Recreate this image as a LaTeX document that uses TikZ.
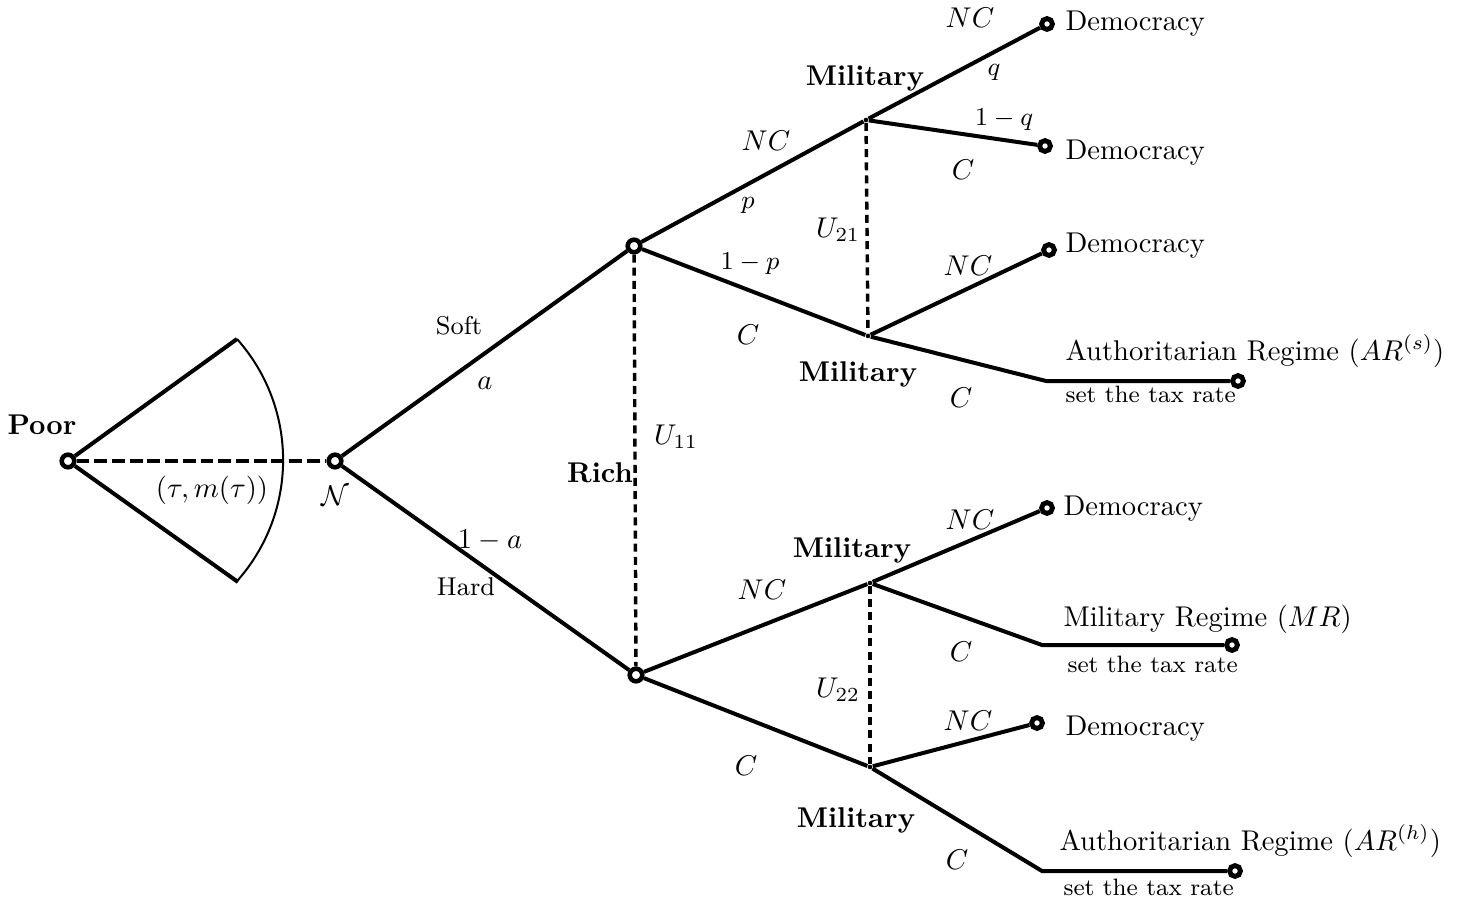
\documentclass[tikz,border=0pt]{standalone}
\usepackage{amsmath}
\begin{document}
\begin{tikzpicture}[x=0.35pt,y=-0.35pt,
  edge/.style={line width=1.4pt},
  poorline/.style={line width=1.1pt, dash pattern=on 4.5pt off 1.7pt},
  infoset/.style={line width=1.2pt, dash pattern=on 2.8pt off 1.8pt},
  ring/.style={circle, draw, line width=1.6pt, minimum size=4.4pt, inner sep=0pt},
  term/.style={circle, draw, line width=1.7pt, minimum size=3.8pt, inner sep=0pt},
  dot/.style={circle, fill, minimum size=1.6pt, inner sep=0pt},
  player/.style={font=\bfseries, inner sep=0pt},
  lab/.style={inner sep=0pt},
  slab/.style={inner sep=0pt, font=\small},
  outcome/.style={inner sep=0pt, anchor=base west},
  tax/.style={inner sep=0pt, anchor=base west, font=\fontsize{8.3}{10}\selectfont}
]
\useasboundingbox (0,0) rectangle (1466,905);

% nodes
\node[ring] (poor) at (68,461) {};
\node[ring] (nat) at (335,461) {};
\node[ring] (r1) at (634,246) {};
\node[ring] (r2) at (636,675) {};
\node[dot] (m1) at (866,120) {};
\node[dot] (m2) at (868,336) {};
\node[dot] (m3) at (870,583) {};
\node[dot] (m4) at (870,767) {};
\node[term] (t1) at (1047,24) {};
\node[term] (t2) at (1045,146) {};
\node[term] (t3) at (1049,250) {};
\node[term] (t4) at (1238,381) {};
\node[term] (t5) at (1047,508) {};
\node[term] (t6) at (1232,645) {};
\node[term] (t7) at (1037,723) {};
\node[term] (t8) at (1235,871) {};
\coordinate (k1) at (1046,381);
\coordinate (k2) at (1042,645);
\coordinate (k3) at (1042,871);
\coordinate (f1) at (237,339);
\coordinate (f2) at (238,582);

% fan of the poor
\draw[edge] (poor) -- (f1);
\draw[edge] (poor) -- (f2);
\draw[line width=0.7pt] (f1) arc[start angle=-41.7, end angle=41.7, radius=182];
\draw[poorline] (poor) -- (nat);

% tree
\draw[edge] (nat) -- (r1);
\draw[edge] (nat) -- (r2);
\draw[edge] (r1) -- (m1);
\draw[edge] (r1) -- (m2);
\draw[edge] (r2) -- (m3);
\draw[edge] (r2) -- (m4);
\draw[edge] (m1) -- (t1);
\draw[edge] (m1) -- (t2);
\draw[edge] (m2) -- (t3);
\draw[edge] (m2) -- (k1) -- (t4);
\draw[edge] (m3) -- (t5);
\draw[edge] (m3) -- (k2) -- (t6);
\draw[edge] (m4) -- (t7);
\draw[edge] (m4) -- (k3) -- (t8);

% information sets
\draw[infoset] (r1) -- (r2);
\draw[infoset] (m1) -- (m2);
\draw[infoset] (m3) -- (m4);

% labels
\node[player] (lpoor) at (42,425) {Poor};
\node[lab] (ltau) at (212,490) {$(\tau,m(\tau))$};
\node[lab] (lnat) at (335,496) {$\mathcal{N}$};
\node[slab] (lsoft) at (459,326) {Soft};
\node[lab] (la) at (485,383) {$a$};
\node[lab] (l1a) at (490,540) {$1-a$};
\node[slab] (lhard) at (466,587) {Hard};
\node[player] (lrich) at (600,473) {Rich};
\node[lab] (lu11) at (676,437) {$U_{11}$};
\node[lab] (lnc1) at (766,141) {$NC$};
\node[slab] (lp) at (748,205) {$p$};
\node[slab] (l1p) at (750,264) {$1-p$};
\node[lab] (lc1) at (748,335) {$C$};
\node[lab] (lnc2) at (762,590) {$NC$};
\node[lab] (lc2) at (746,766) {$C$};
\node[player] (lm1) at (865,78) {Military};
\node[player] (lm2) at (858,374) {Military};
\node[player] (lm3) at (852,550) {Military};
\node[player] (lm4) at (856,820) {Military};
\node[lab] (lu21) at (838,230) {$U_{21}$};
\node[lab] (lu22) at (838,690) {$U_{22}$};
\node[lab] (lnc3) at (970,18) {$NC$};
\node[slab] (lq) at (994,72) {$q$};
\node[slab] (l1q) at (1004,120) {$1-q$};
\node[lab] (lc3) at (963,170) {$C$};
\node[lab] (lnc4) at (968,266) {$NC$};
\node[lab] (lc4) at (961,398) {$C$};
\node[lab] (lnc5) at (970,520) {$NC$};
\node[lab] (lc5) at (961,652) {$C$};
\node[lab] (lnc6) at (968,721) {$NC$};
\node[lab] (lc6) at (957,860) {$C$};

% outcomes
\node[outcome] (o1) at (1065,31) {Democracy};
\node[outcome] (o2) at (1065,160) {Democracy};
\node[outcome] (o3) at (1065,253) {Democracy};
\node[outcome] (o4) at (1065,360) {Authoritarian Regime ($AR^{(s)}$)};
\node[tax] (x4) at (1065,402) {set the tax rate};
\node[outcome] (o5) at (1063,515) {Democracy};
\node[outcome] (o6) at (1063,626) {Military Regime ($MR$)};
\node[tax] (x6) at (1067,672) {set the tax rate};
\node[outcome] (o7) at (1065,735) {Democracy};
\node[outcome] (o8) at (1059,850) {Authoritarian Regime ($AR^{(h)}$)};
\node[tax] (x8) at (1063,895) {set the tax rate};
\end{tikzpicture}
\end{document}
